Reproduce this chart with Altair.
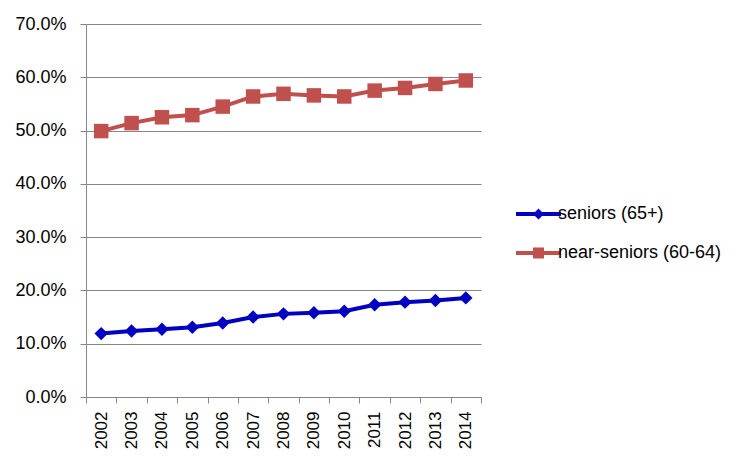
import altair as alt
import pandas as pd

years = ["2002", "2003", "2004", "2005", "2006", "2007", "2008",
         "2009", "2010", "2011", "2012", "2013", "2014"]
seniors = [11.9, 12.4, 12.7, 13.1, 13.9, 15.0, 15.6, 15.8, 16.1, 17.3, 17.8, 18.1, 18.6]
near_seniors = [49.9, 51.4, 52.5, 52.9, 54.5, 56.4, 56.9, 56.6, 56.4, 57.5, 58.0, 58.75, 59.4]
series_names = ["seniors (65+)", "near-seniors (60-64)"]
colors = ["#0000C0", "#C0504D"]
y_ticks = [0, 0.1, 0.2, 0.3, 0.4, 0.5, 0.6, 0.7]

rows = []
for name, vals in zip(series_names, [seniors, near_seniors]):
    for yr, v in zip(years, vals):
        rows.append({"year": yr, "series": name, "value": v / 100.0})
df = pd.DataFrame(rows)

FONT = "Liberation Sans"
GRID = "#868686"

# legend symbols: line with marker (custom paths, unit = sqrt(size)/2 px)
leg_paths = [
    "M-1,-0.4L8,-0.4L8,0.4L-1,0.4Z M3.5,-1.1L4.6,0L3.5,1.1L2.4,0Z",
    "M-1,-0.4L8,-0.4L8,0.4L-1,0.4Z M2.4,-1.1L4.6,-1.1L4.6,1.1L2.4,1.1Z",
]

x_enc = alt.X("year:N", sort=years,
              scale=alt.Scale(type="band", paddingInner=0, paddingOuter=0),
              axis=alt.Axis(title=None, labelAngle=270, tickBand="extent",
                            labelFont=FONT, labelFontSize=17, labelColor="black",
                            domainColor=GRID, tickColor=GRID, tickSize=6,
                            labelPadding=8, grid=False))
y_enc = alt.Y("value:Q",
              scale=alt.Scale(domain=[0, 0.7], nice=False, zero=True),
              axis=alt.Axis(title=None, values=y_ticks, format=".1%",
                            labelFont=FONT, labelFontSize=18, labelColor="black",
                            grid=True, gridColor=GRID, gridWidth=1,
                            domainColor=GRID, tickColor=GRID, tickSize=6,
                            labelPadding=14))

legend = alt.Legend(
    title=None, orient="none", legendX=426, legendY=181,
    labelFont=FONT, labelFontSize=18, labelColor="black", labelLimit=300,
    symbolSize=100, labelOffset=28, rowPadding=21, padding=0,
    symbolStrokeWidth=0, symbolOpacity=1,
)

color_scale = alt.Scale(domain=series_names, range=colors)
color_enc = alt.Color("series:N", scale=color_scale, legend=legend)

base = alt.Chart(df)

legend_layer = base.transform_filter("false").mark_point(filled=True).encode(
    x=x_enc, y=y_enc, color=color_enc,
    shape=alt.Shape("series:N", scale=alt.Scale(domain=series_names, range=leg_paths),
                    legend=legend),
)

lines = base.mark_line(strokeWidth=4).encode(x=x_enc, y=y_enc, color=color_enc)

pts_s = base.transform_filter(alt.datum.series == series_names[0]).mark_point(
    shape="diamond", filled=True, size=180, opacity=1, color=colors[0]
).encode(x=x_enc, y=y_enc)

pts_n = base.transform_filter(alt.datum.series == series_names[1]).mark_point(
    shape="square", filled=True, size=210, opacity=1, color=colors[1]
).encode(x=x_enc, y=y_enc)

chart = alt.layer(legend_layer, lines, pts_s, pts_n).properties(
    width=395, height=373,
    autosize=alt.AutoSizeParams(type="none"),
    padding={"left": 78, "top": 16, "right": 262, "bottom": 62},
    background="white",
).configure_view(strokeWidth=0)

chart.save("out.html", embed_options={"renderer": "svg", "actions": False})
